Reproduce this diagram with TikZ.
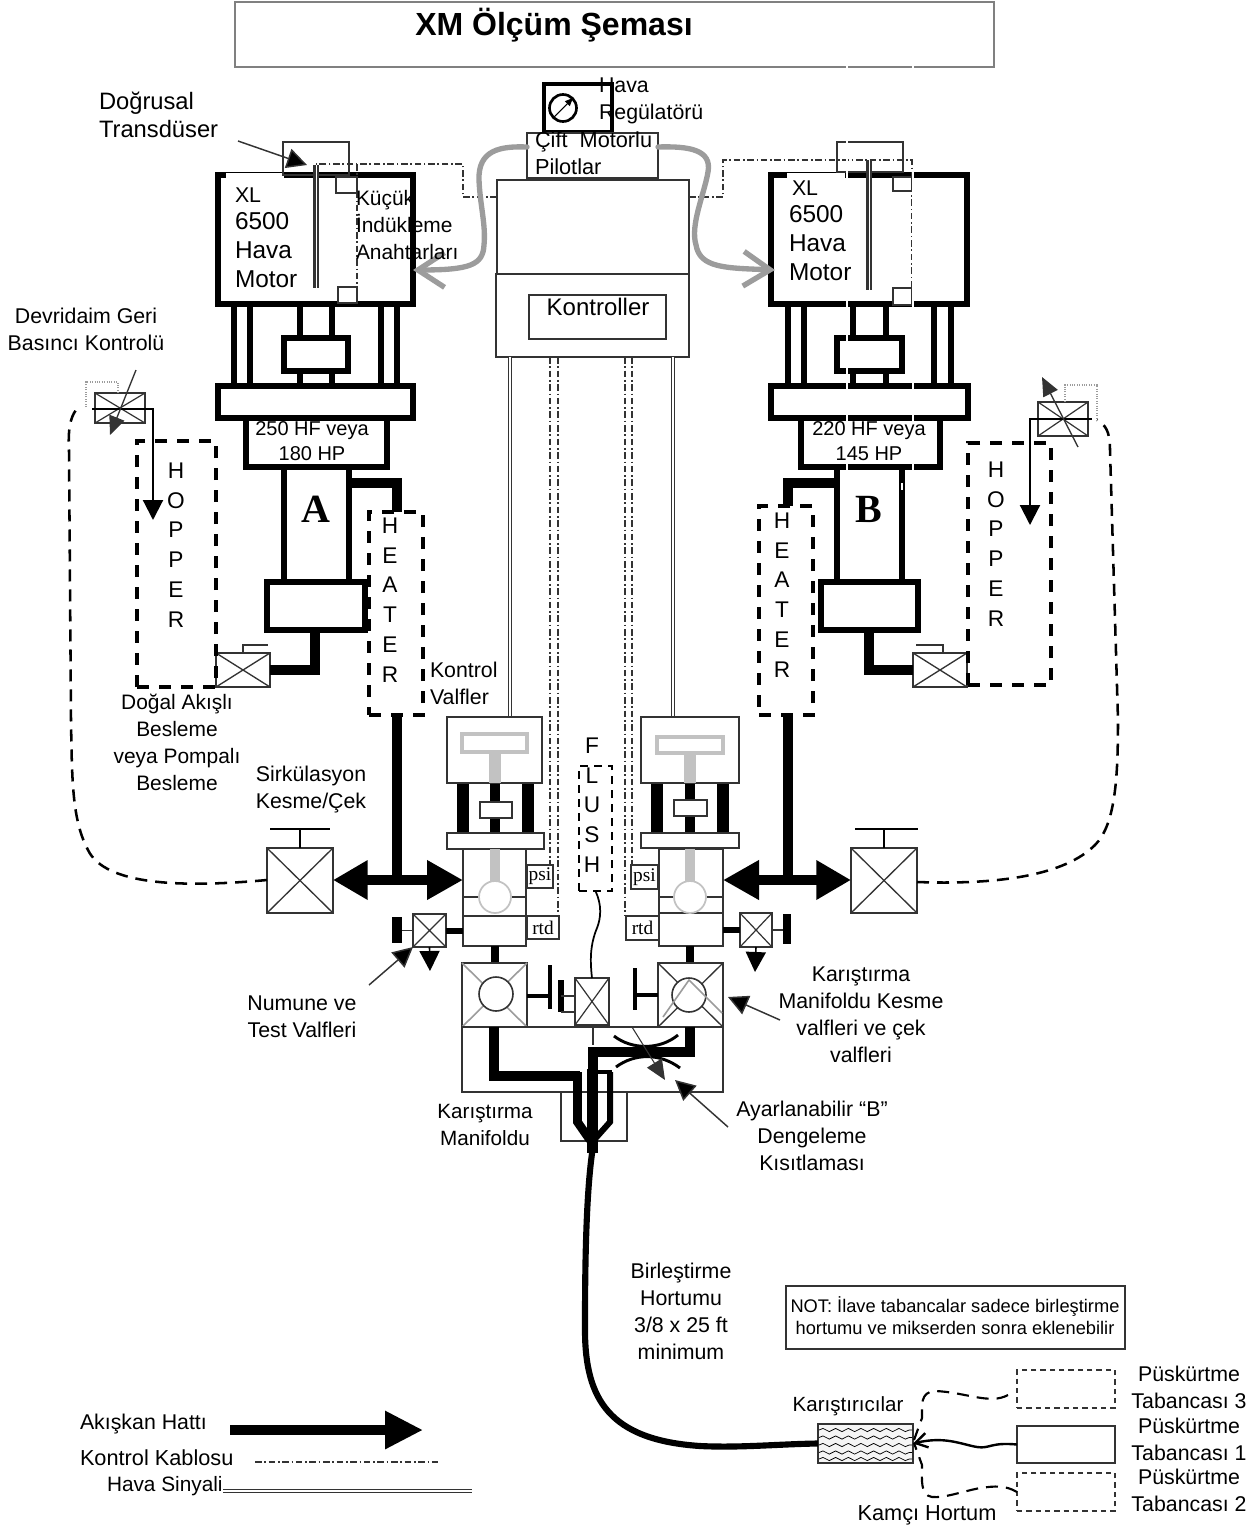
\documentclass[tikz,border=0pt]{standalone}
\usepackage{fontspec}
\setmainfont{Liberation Sans}
\newfontfamily\serifletter{Liberation Serif}
\usetikzlibrary{arrows.meta,decorations.pathmorphing}
\definecolor{linegray}{HTML}{333333}
\definecolor{airgray}{HTML}{9c9c9c}
\definecolor{stemgray}{HTML}{c2c2c2}
% box given by its corners, in reference pixels
\newcommand{\partbox}[6]{\node[#1, minimum width={(#4-#2)*0.75pt}, minimum height={(#5-#3)*0.75pt}] (#6) at ({(#2+#4)/2},{(#3+#5)/2}) {};}
\newcommand{\crossbox}[2][]{\draw[#1] (#2.north west) -- (#2.south east) (#2.north east) -- (#2.south west);}

\begin{document}
\begin{tikzpicture}[
    x=0.75pt, y=-0.75pt,
    every node/.style={inner sep=0pt, outer sep=0pt},
    lbl/.style={align=center, font=\fontsize{16}{20.25}\selectfont},
    lblleft/.style={lbl, align=left, anchor=west},
    biglbl/.style={lblleft, font=\fontsize{18.3}{21}\selectfont},
    tower/.style={align=center, font=\fontsize{17}{22.3}\selectfont},
    smalltag/.style={font=\fontsize{14.5}{14.5}\selectfont\serifletter},
    heavy/.style={draw, line width=4.5pt, fill=white},
    thin box/.style={draw=linegray, line width=1pt, fill=white},
    mid box/.style={draw=linegray, line width=1.6pt, fill=white},
    legwall/.style={draw, line width=4pt},
    fluid/.style={draw, line width=7.4pt, miter limit=4},
    dashbox/.style={draw, line width=2.6pt, dash pattern=on 9pt off 7.5pt},
    gunbox/.style={draw=linegray, line width=1.2pt, dash pattern=on 4pt off 3pt},
    returnline/.style={draw, line width=1.9pt, dash pattern=on 9pt off 6pt},
    ctrlwire/.style={draw=linegray, line width=.8pt, dash pattern=on 5pt off 2pt on 1.2pt off 2pt},
    airsignal/.style={draw=linegray, line width=.95pt, double=white, double distance=1.2pt},
    airhose/.style={draw=airgray, line width=4pt, line cap=round, -{Straight Barb[length=20pt,width=26pt,line width=4pt]}},
    callout/.style={draw=linegray, line width=1.1pt, -{Triangle[length=15pt,width=15pt,fill=black]}},
    bigflow/.style={draw, line width=7.4pt, {Triangle[length=26pt,width=28pt]}-{Triangle[length=27pt,width=28pt]}},
    downflow/.style={draw, line width=1.6pt, -{Triangle[length=15pt,width=15pt]}},
    dotbox/.style={draw=airgray, line width=.8pt, densely dotted}
]
\useasboundingbox (0,0) rectangle (1258,1528);

% title
\partbox{thin box, draw=gray}{235}{2}{994}{67}{titlebox}
\node[font=\fontsize{24}{28}\selectfont\bfseries] (title) at (554,25) {XM Ölçüm Şeması};

% regulator and controller
\partbox{draw, line width=2.4pt}{544}{84}{612}{132}{regulator}
\draw[line width=2pt] (563,108) circle (13.5);
\draw[line width=.8pt, -{Triangle[length=6pt,width=5pt]}] (554,117) -- (573,98);
\partbox{mid box}{527}{133}{658}{178}{pilots}
\partbox{mid box}{497}{180}{689}{274}{ctrlupper}
\partbox{mid box}{496}{274}{689}{357}{ctrllower}
\partbox{mid box}{529}{295}{666}{339}{ctrlinner}

% signal lines down from the controller
\draw[airsignal] (510,357) -- (510,717);
\draw[airsignal] (673,357) -- (673,717);
\draw[ctrlwire] (550,357) -- (550,865);
\draw[ctrlwire] (558,357) -- (558,916);
\draw[ctrlwire] (632,357) -- (632,865);
\draw[ctrlwire] (625,357) -- (625,916);

% motor A
\foreach \legx in {234,250,300,332,381,397}
    \draw[legwall] (\legx,304) -- (\legx,386);
\partbox{heavy}{218}{175}{413}{304}{motorA}
\partbox{heavy}{284}{338}{348}{371}{yokeA}
\partbox{heavy}{218}{386}{413}{418}{plateA}
\fill[white] (226,173) rectangle (284,178);
\partbox{thin box, fill=none}{283}{142}{349}{175}{sensorA}
\draw[linegray, line width=3.8pt] (316,165) -- (316,288);
\draw[white, line width=.7pt] (316,165) -- (316,288);
\partbox{thin box}{336}{177}{357}{193}{switchAa}
\partbox{thin box}{338}{287}{357}{303}{switchAb}
\draw[ctrlwire] (ctrlupper.west |- 0,197) -- (463,197) -- (463,164) -- (316,164);
\draw[ctrlwire] (357,164) -- (357,287);

% motor B
\foreach \legx in {788,804,853,886,934,951}
    \draw[legwall] (\legx,304) -- (\legx,386);
\partbox{heavy}{771}{175}{967}{304}{motorB}
\partbox{heavy}{837}{338}{902}{371}{yokeB}
\partbox{heavy}{771}{386}{968}{418}{plateB}
\fill[white] (787,173) rectangle (845,178);
\partbox{thin box, fill=none}{837}{142}{903}{172}{sensorB}
\draw[linegray, line width=3.8pt] (869,160) -- (869,290);
\draw[white, line width=.7pt] (869,160) -- (869,290);
\partbox{thin box}{893}{177}{912}{191}{switchBa}
\partbox{thin box}{893}{288}{912}{305}{switchBb}
\draw[ctrlwire] (ctrlupper.east |- 0,197) -- (723,197) -- (723,160) -- (912,160) -- (912,290);

% air hoses from the pilots
\draw[airhose] (pilots.west |- 0,147) .. controls (500,146) and (478,150) .. (479,180) .. controls (480,205) and (486,225) .. (484,245) .. controls (483,265) and (470,270) .. (motorA.east |- 0,270);
\draw[airhose] (pilots.east |- 0,147) .. controls (690,146) and (712,150) .. (708,172) .. controls (704,195) and (690,225) .. (696,245) .. controls (700,268) and (725,268) .. (775,270);

% pump A
\partbox{heavy}{246}{418}{387}{467}{headA}
\draw[line width=4.5pt] (284,467) -- (284,582) (349,467) -- (349,582);
\partbox{heavy}{267}{582}{365}{630}{blockA}
\node[font=\fontsize{30}{30}\serifletter\bfseries] (letterA) at (316,509) {A};
\partbox{mid box}{216}{653}{270}{687}{feedA}
\crossbox[linegray, line width=1pt]{feedA}
\draw[linegray, line width=1pt] (243,653) -- (243,645) -- (268,645);
\draw[fluid] (315,633) -- (315,670) -- (feedA.east |- 0,670);

% pump B
\partbox{heavy}{801}{418}{940}{467}{headB}
\draw[line width=4.5pt] (837,467) -- (837,582) (902,467) -- (902,582);
\partbox{heavy}{821}{582}{918}{630}{blockB}
\node[font=\fontsize{30}{30}\serifletter\bfseries] (letterB) at (869,509) {B};
\partbox{mid box}{913}{653}{967}{687}{feedB}
\crossbox[linegray, line width=1pt]{feedB}
\draw[linegray, line width=1pt] (943,653) -- (943,645) -- (916,645);
\draw[fluid] (869,633) -- (869,670) -- (feedB.west |- 0,670);

% hoppers and heaters
\partbox{dashbox}{137}{441}{216}{687}{hopperA}
\partbox{dashbox}{968}{443}{1051}{685}{hopperB}
\partbox{dashbox}{369}{512}{423}{715}{heaterA}
\partbox{dashbox}{759}{506}{813}{715}{heaterB}
\draw[fluid] (352,483) -- (397,483) -- (397,512);
\draw[fluid] (837,483) -- (788,483) -- (788,506);

% recirculation back pressure valves
\partbox{mid box}{95}{393}{145}{423}{backA}
\crossbox[linegray, line width=.9pt]{backA}
\draw[dotbox] (86,407) -- (86,382) -- (118,382) -- (118,393);
\draw[downflow] (92,409) -- (153,409) -- (153,520);
\draw[draw=linegray, line width=1pt, -{Triangle[length=14pt,width=12pt]}] (136,370) -- (110,435);
\partbox{mid box}{1038}{402}{1088}{436}{backB}
\crossbox[linegray, line width=.9pt]{backB}
\draw[dotbox] (1065,402) -- (1065,385) -- (1097,385) -- (1097,419);
\draw[downflow] (1092,419) -- (1030,419) -- (1030,525);
\draw[draw=linegray, line width=1pt, -{Triangle[length=14pt,width=12pt]}] (1078,447) -- (1042,377);

% circulation shut off valves
\partbox{mid box}{267}{848}{333}{913}{circA}
\crossbox[linegray, line width=1pt]{circA}
\draw[line width=1.8pt] (circA.north) -- (300,829) (270,829) -- (330,829);
\partbox{mid box}{851}{848}{917}{913}{circB}
\crossbox[linegray, line width=1pt]{circB}
\draw[line width=1.8pt] (circB.north) -- (884,829) (855,829) -- (918,829);
\draw[returnline] (circA.west |- 0,880) .. controls (180,888) and (105,885) .. (88,850) .. controls (72,820) and (72,780) .. (71,720) -- (69,450) .. controls (68,430) and (70,418) .. (76,410);
\draw[returnline] (circB.east |- 0,882) .. controls (1000,885) and (1065,875) .. (1095,845) .. controls (1115,825) and (1118,780) .. (1118,720) -- (1110,450) .. controls (1110,430) and (1105,425) .. (1097,420);

% control valve A
\foreach \legx/\legw in {463/9.5,528/9.5,495/7.5}
    \draw[line width=\legw pt] (\legx,783) -- (\legx,833);
\partbox{mid box}{447}{717}{542}{783}{headvalveA}
\partbox{draw=stemgray, line width=2.4pt, fill=white}{462}{734}{527}{752}{tbarA}
\draw[stemgray, line width=9.5pt] (495,752) -- (495,783);
\partbox{mid box}{480}{802}{512}{818}{slugA}
\partbox{mid box}{447}{833}{544}{849}{plateValveA}
\partbox{mid box}{463}{849}{526}{946}{bodyA}
\draw[linegray, line width=1.4pt] (463,916) -- (526,916);
\draw[stemgray, line width=7.5pt] (495,849) -- (495,882);
\draw[linegray, line width=.9pt] (463,897) -- (479,897) (511,897) -- (526,897);
\draw[stemgray, line width=1.3pt, fill=white] (495,897) circle (16);
\partbox{thin box}{527}{865}{553}{888}{psiA}
\partbox{thin box}{527}{916}{559}{939}{rtdA}
\node[smalltag] (psiAtext) at (psiA) {psi};
\node[smalltag] (rtdAtext) at (rtdA) {rtd};

% control valve B
\foreach \legx/\legw in {657/9.5,723/9.5,690/7.5}
    \draw[line width=\legw pt] (\legx,783) -- (\legx,833);
\partbox{mid box}{641}{717}{739}{783}{headvalveB}
\partbox{draw=stemgray, line width=2.4pt, fill=white}{657}{737}{723}{753}{tbarB}
\draw[stemgray, line width=9.5pt] (690,753) -- (690,783);
\partbox{mid box}{674}{800}{707}{816}{slugB}
\partbox{mid box}{641}{833}{739}{848}{plateValveB}
\partbox{mid box}{659}{849}{723}{946}{bodyB}
\draw[linegray, line width=1.4pt] (659,913) -- (723,913);
\draw[stemgray, line width=7.5pt] (690,849) -- (690,882);
\draw[linegray, line width=.9pt] (659,897) -- (674,897) (706,897) -- (723,897);
\draw[stemgray, line width=1.3pt, fill=white] (690,897) circle (16);
\partbox{thin box}{631}{865}{658}{889}{psiB}
\partbox{thin box}{626}{916}{659}{940}{rtdB}
\node[smalltag] (psiBtext) at (psiB) {psi};
\node[smalltag] (rtdBtext) at (rtdB) {rtd};

% big flow arrows and heater outlets
\draw[bigflow] (circA.east |- 0,880) -- (bodyA.west |- 0,880);
\draw[bigflow] (circB.west |- 0,880) -- (bodyB.east |- 0,880);
\draw[fluid] (heaterA.south -| 397,0) -- (397,880);
\draw[fluid] (heaterB.south -| 788,0) -- (788,880);

% sample valves
\partbox{mid box}{413}{914}{446}{947}{sampleA}
\crossbox[linegray, line width=.9pt]{sampleA}
\draw[line width=4.5pt] (sampleA.east) -- (bodyA.west |- sampleA.east);
\draw[linegray, line width=.8pt] (sampleA.west) -- (402,930.5);
\partbox{fill, draw=none}{392}{917}{402}{943}{sampleAbar}
\draw[downflow, line width=1.2pt] (sampleA.south) -- (430,971);
\partbox{mid box}{740}{913}{772}{947}{sampleB}
\crossbox[linegray, line width=.9pt]{sampleB}
\draw[line width=4.5pt] (sampleB.west) -- (bodyB.east |- sampleB.west);
\draw[linegray, line width=.8pt] (sampleB.east) -- (783,930);
\partbox{fill, draw=none}{783}{914}{791}{944}{sampleBbar}
\draw[downflow, line width=1.2pt] (sampleB.south) -- (755,972);

% mix manifold and its valves
\draw[line width=6pt] (495,946) -- (495,963) (690,946) -- (690,963);
\partbox{mid box}{462}{963}{527}{1027}{mixvalveA}
\crossbox[airgray, line width=1.2pt]{mixvalveA}
\draw[linegray, line width=1.2pt, fill=white] (496,994) circle (17);
\partbox{mid box}{658}{963}{723}{1027}{mixvalveB}
\crossbox[linegray, line width=1pt]{mixvalveB}
\draw[linegray, line width=1.2pt, fill=white] (689,995) circle (17);
\draw[airgray, line width=1.2pt] (663,1017) -- (689,980) -- (722,1013);
\draw[line width=3.6pt] (mixvalveA.east |- 0,996) -- (550,996) (550,965) -- (550,1009);
\draw[line width=3.6pt] (mixvalveB.west |- 0,995) -- (635,995) (635,968) -- (635,1010);
\partbox{mid box}{575}{978}{609}{1025}{flushvalve}
\crossbox[linegray, line width=.9pt]{flushvalve}
\draw[line width=4.5pt] (561,980) -- (561,1012);
\draw[linegray, line width=.9pt] (561,996) -- (flushvalve.west |- 0,996) (561,1012) -- (flushvalve.west |- 0,1012);
\partbox{mid box}{462}{1027}{723}{1092}{manifold}
\partbox{mid box}{561}{1092}{627}{1141}{mixhead}
\draw[linegray, line width=.8pt] (593,1027) -- (593,1045);
\draw[fluid] (494,1027) -- (494,1076) -- (580,1076);
\draw[fluid] (690,1027) -- (690,1052) -- (593,1052) -- (593,1072);
\draw[line width=6.5pt] (577.5,1072) -- (577.5,1122) -- (590,1140);
\draw[line width=4.5pt] (610,1072) -- (610,1122) -- (594,1140);
\draw[line width=8pt] (592.5,1069) -- (592.5,1153);
\draw[line width=3pt] (588,1072) -- (612,1072);
\draw[line width=2.2pt] (614,1036) .. controls (632,1050) and (660,1050) .. (678,1035);
\draw[line width=2.2pt] (616,1067) .. controls (635,1053) and (660,1053) .. (680,1068);
\draw[draw=linegray, line width=.8pt, -{Triangle[length=15pt,width=13pt]}] (632,1027) -- (665,1080);

% flush
\partbox{dashbox, dash pattern=on 6pt off 4.5pt, line width=2pt}{579}{766}{612}{891}{flushbox}
\draw[line width=1.3pt] (flushbox.south) .. controls (602,905) and (601,918) .. (597,928) .. controls (590,945) and (590,960) .. (flushvalve.north);

% hose, mixer and guns
\partbox{draw=linegray, line width=1.2pt, fill=black!4}{818}{1424}{913}{1463}{statmixer}
\foreach \wavey in {1430,1437.5,1445,1452.5,1459}
    \draw[line width=.55pt, decorate, decoration={snake, amplitude=1.2pt, segment length=9.5pt}] (819,\wavey) -- (912,\wavey);
\draw[line width=4.6pt] (592.5,1150) .. controls (585,1200) and (585,1290) .. (585,1330) .. controls (585,1400) and (610,1440) .. (700,1446) .. controls (740,1448) and (780,1444) .. (statmixer.west);
\partbox{gunbox}{1017}{1370}{1115}{1408}{gunthree}
\partbox{draw=linegray, line width=1.3pt}{1017}{1426}{1115}{1463}{gunone}
\partbox{gunbox}{1017}{1473}{1115}{1511}{guntwo}
\draw[line width=1.8pt, -{Straight Barb[length=9pt,width=11pt]}] (gunone.west) .. controls (990,1442) and (990,1449) .. (977,1447) .. controls (960,1444) and (945,1436) .. (statmixer.east);
\draw[line width=1.6pt, dash pattern=on 9pt off 6pt] (1008,1395) .. controls (990,1405) and (965,1392) .. (935,1391) .. controls (920,1392) and (922,1405) .. (922,1418) -- (914,1440);
\draw[line width=1.6pt, dash pattern=on 9pt off 6pt] (guntwo.west) .. controls (1005,1485) and (995,1486) .. (980,1488) .. controls (960,1492) and (945,1498) .. (932,1497) .. controls (920,1495) and (922,1480) .. (922,1465) -- (914,1443);
\partbox{thin box}{786}{1286}{1125}{1349}{notebox}

% callouts
\coordinate (tailtrans) at (238,141);
\coordinate (tailnum) at (369,985);
\coordinate (tailmix) at (780,1020);
\coordinate (tailadj) at (728,1127);
\coordinate (tipmix) at (728,997);
\draw[callout] (tailtrans) -- (307,165);
\draw[callout] (tailnum) -- (sampleA.south west);
\draw[callout] (tailmix) -- (tipmix);
\draw[callout] (tailadj) -- (675,1080);

% legend
\coordinate (flowstart) at (230,1430);
\coordinate (flowend) at (423,1430);
\coordinate (wirestart) at (255,1462);
\coordinate (wireend) at (441,1462);
\coordinate (airstart) at (223,1491);
\coordinate (airend) at (472,1491);
\draw[line width=6.8pt, -{Triangle[length=28.5pt,width=27pt]}] (flowstart) -- (flowend);
\draw[ctrlwire] (wirestart) -- (wireend);
\draw[airsignal] (airstart) -- (airend);

% stray white seams of the right half
\draw[white, line width=1pt] (847,60) -- (847,70) (913,60) -- (913,70);
\draw[white, line width=1.1pt] (847,140) -- (847,470) (913,172) -- (913,470) (902,483) -- (902,490);

% labels
\node[lbl, font=\fontsize{18}{22}\selectfont] (kontroller) at (598,307) {Kontroller};
\node[lblleft] (havareg) at (599,101) {Hava\\Regülatörü};
\node[lblleft, font=\fontsize{16.3}{20.25}\selectfont] (cift) at (535,153) {Çift\ \ Motorlu\\Pilotlar};
\node[biglbl, font=\fontsize{17.8}{21}\selectfont] (dogrusal) at (99,115) {Doğrusal\\Transdüser};
\node[lblleft, font=\fontsize{15.7}{20.25}\selectfont] (kucuk) at (356,225) {Küçük\\İndükleme\\Anahtarları};
\node[lblleft] (xlA) at (235,195) {XL};
\node[biglbl, font=\fontsize{18.3}{21.5}\selectfont] (sixA) at (235,250) {6500\\Hava\\Motor};
\node[lblleft] (xlB) at (792,188) {XL};
\node[biglbl, font=\fontsize{18.3}{22}\selectfont] (sixB) at (789,243) {6500\\Hava\\Motor};
\node[lbl] (dev) at (86,329.5) {Devridaim Geri\\Basıncı Kontrolü};
\node[lbl, font=\fontsize{15}{19}\selectfont] (hpA) at (312,441) {250 HF veya\\180 HP};
\node[lbl, font=\fontsize{15}{19}\selectfont] (hpB) at (869,441) {220 HF veya\\145 HP};
\node[tower] (hoppA) at (176,545) {H\\O\\P\\P\\E\\R};
\node[tower] (hoppB) at (996,544) {H\\O\\P\\P\\E\\R};
\node[tower] (heatA) at (390,600) {H\\E\\A\\T\\E\\R};
\node[tower] (heatB) at (782,595) {H\\E\\A\\T\\E\\R};
\node[tower] (flushtext) at (592,805) {F\\L\\U\\S\\H};
\node[lbl, font=\fontsize{15.7}{20.25}\selectfont] (dogal) at (177,742) {Doğal Akışlı\\Besleme\\veya Pompalı\\Besleme};
\node[lbl] (sirk) at (311,789.5) {Sirkülasyon\\Kesme/Çek};
\node[lblleft] (kvalf) at (430,683.5) {Kontrol\\Valfler};
\node[lbl] (numune) at (302,1016.5) {Numune ve\\Test Valfleri};
\node[lbl] (mixkesme) at (861,1014.5) {Karıştırma\\Manifoldu Kesme\\valfleri ve çek\\valfleri};
\node[lbl, font=\fontsize{15.5}{20.25}\selectfont] (mixlbl) at (485,1124.5) {Karıştırma\\Manifoldu};
\node[lbl] (ayar) at (812,1136) {Ayarlanabilir “B”\\Dengeleme\\Kısıtlaması};
\node[lbl] (birles) at (681,1311) {Birleştirme\\Hortumu\\3/8 x 25 ft\\minimum};
\node[lbl, font=\fontsize{13.7}{16.5}\selectfont] (note) at (955,1316) {NOT: İlave tabancalar sadece birleştirme\\hortumu ve mikserden sonra eklenebilir};
\node[lbl, font=\fontsize{15.4}{20}\selectfont] (karis) at (848,1406) {Karıştırıcılar};
\node[lbl, font=\fontsize{16.3}{20}\selectfont] (kamci) at (927,1515) {Kamçı Hortum};
\node[lbl] (tabthree) at (1189,1387.5) {Püskürtme\\Tabancası 3};
\node[lbl] (tabone) at (1189,1439.5) {Püskürtme\\Tabancası 1};
\node[lbl] (tabtwo) at (1189,1490.5) {Püskürtme\\Tabancası 2};
\node[lblleft] (akiskan) at (80,1424) {Akışkan Hattı};
\node[lblleft, font=\fontsize{16.3}{20}\selectfont] (kablo) at (80,1458) {Kontrol Kablosu};
\node[lblleft, font=\fontsize{15.6}{20}\selectfont] (hava) at (107,1486) {Hava Sinyali};
\end{tikzpicture}
\end{document}
